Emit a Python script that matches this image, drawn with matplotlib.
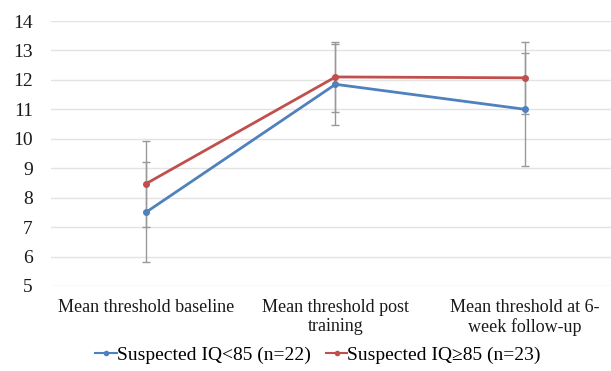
import matplotlib
matplotlib.use("Agg")
from matplotlib import pyplot as plt
from matplotlib.lines import Line2D
import numpy as np

plt.rcParams["font.family"] = ["Liberation Serif", "DejaVu Serif"]

# categories and series
categories = ["Mean threshold baseline", "Mean threshold post\ntraining",
              "Mean threshold at 6-\nweek follow-up"]
blue_mean = [7.5, 11.85, 11.0]
blue_err = [1.7, 1.37, 1.93]
red_mean = [8.47, 12.1, 12.07]
red_err = [1.47, 1.2, 1.23]
blue_label = "Suspected IQ<85 (n=22)"
red_label = "Suspected IQ\u226585 (n=23)"

blue = "#4F81BD"
red = "#C0504D"

fig = plt.figure(figsize=(6.11, 3.71), dpi=100)
ax = fig.add_axes([51/611, 1 - 286/371, (611 - 51)/611, (286 - 21)/371])

x = np.arange(len(categories))

ax.errorbar(x, blue_mean, yerr=blue_err, color=blue, lw=2, marker="o", ms=4,
            ecolor="#999999", elinewidth=1, capsize=3, capthick=1, zorder=3)
ax.errorbar(x, red_mean, yerr=red_err, color=red, lw=2, marker="o", ms=4,
            ecolor="#999999", elinewidth=1, capsize=3, capthick=1, zorder=3)

ax.set_ylim(5, 14)
ax.set_yticks(range(5, 15))
ax.set_xlim(-0.5, 2.5 - 9/190)
ax.set_xticks(x)
ax.set_xticklabels(categories)
ax.grid(axis="y", color="#e3e3e3", lw=1)
ax.set_axisbelow(True)
for s in ax.spines.values():
    s.set_visible(False)
ax.tick_params(length=0, colors="#1a1a1a")
ax.tick_params(axis="x", pad=9, labelsize=13)
ax.tick_params(axis="y", pad=13, labelsize=14)

handles = [Line2D([], [], color=blue, lw=1.5, marker="o", ms=3),
           Line2D([], [], color=red, lw=1.5, marker="o", ms=3)]
fig.legend(handles, [blue_label, red_label], loc="center",
           bbox_to_anchor=(318/611, 1 - 355/371), ncol=2, frameon=False,
           fontsize=14, handlelength=1.1, handletextpad=0.0, columnspacing=0.8)

fig.savefig("out.png", dpi=100)
